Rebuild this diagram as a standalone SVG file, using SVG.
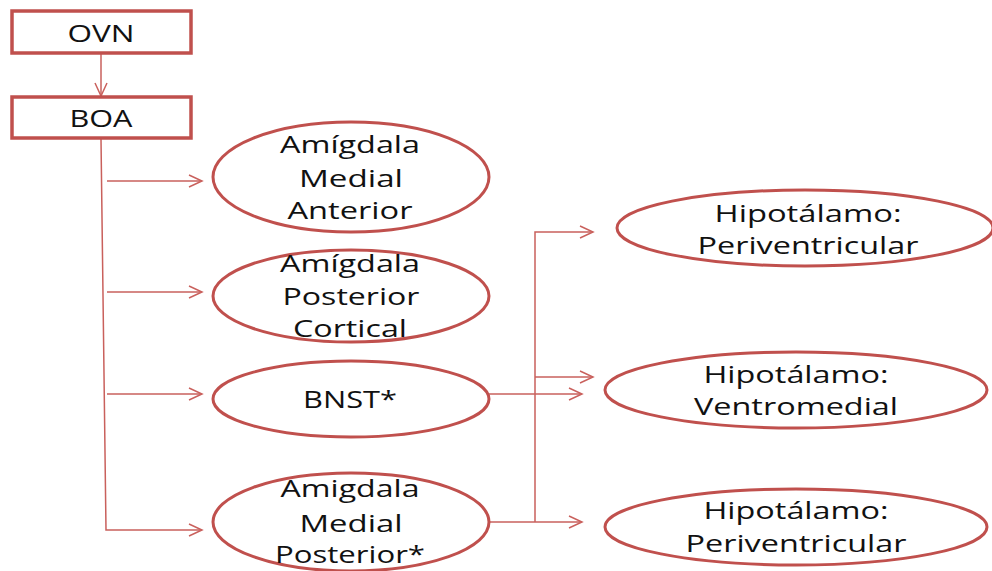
<svg xmlns="http://www.w3.org/2000/svg" width="992" height="571" viewBox="0 0 992 571">
<style>
.box{fill:#fff;stroke:#c0504d;stroke-width:3.5}
.ell{fill:#fff;stroke:#c0504d;stroke-width:3}
.con{fill:none;stroke:#c9605c;stroke-width:1.5}
text{font-family:"Open Sans","Liberation Sans",sans-serif;font-size:24px;fill:#111;text-anchor:middle}
</style>
<defs>
<marker id="arr" markerUnits="userSpaceOnUse" markerWidth="16" markerHeight="16" refX="14" refY="7" orient="auto">
<path d="M1,1 L14,7 L1,13" fill="none" stroke="#c9605c" stroke-width="1.5"/>
</marker>
</defs>
<g id="connectors">
<line class="con" x1="101" y1="53" x2="101" y2="96" marker-end="url(#arr)"/>
<polyline class="con" points="101,139 106,530 202,530" marker-end="url(#arr)"/>
<line class="con" x1="107" y1="181" x2="202" y2="181" marker-end="url(#arr)"/>
<line class="con" x1="107" y1="292" x2="202" y2="292" marker-end="url(#arr)"/>
<line class="con" x1="107" y1="394" x2="202" y2="394" marker-end="url(#arr)"/>
<line class="con" x1="489" y1="394" x2="582" y2="394" marker-end="url(#arr)"/>
<line class="con" x1="489" y1="522" x2="582" y2="522" marker-end="url(#arr)"/>
<polyline class="con" points="535,522 535,232 593,232" marker-end="url(#arr)"/>
<line class="con" x1="535" y1="377" x2="593" y2="377" marker-end="url(#arr)"/>
</g>
<g id="ovn">
<rect class="box" x="12" y="11" width="179" height="42"/>
<text x="101" y="42" textLength="67" lengthAdjust="spacingAndGlyphs">OVN</text>
</g>
<g id="boa">
<rect class="box" x="12" y="97" width="179" height="41"/>
<text x="101" y="127" textLength="63" lengthAdjust="spacingAndGlyphs">BOA</text>
</g>
<g id="ama">
<ellipse class="ell" cx="351" cy="177" rx="138" ry="55"/>
<text x="350" y="153" textLength="140" lengthAdjust="spacingAndGlyphs">Amígdala</text>
<text x="351" y="187" textLength="104" lengthAdjust="spacingAndGlyphs">Medial</text>
<text x="350" y="219" textLength="125" lengthAdjust="spacingAndGlyphs">Anterior</text>
</g>
<g id="apc">
<ellipse class="ell" cx="351" cy="296" rx="138" ry="46"/>
<text x="350" y="272" textLength="140" lengthAdjust="spacingAndGlyphs">Amígdala</text>
<text x="351" y="305" textLength="137" lengthAdjust="spacingAndGlyphs">Posterior</text>
<text x="350" y="337" textLength="114" lengthAdjust="spacingAndGlyphs">Cortical</text>
</g>
<g id="bnst">
<ellipse class="ell" cx="351" cy="399" rx="138" ry="38"/>
<text x="350" y="408" textLength="94" lengthAdjust="spacingAndGlyphs">BNST*</text>
</g>
<g id="amp">
<ellipse class="ell" cx="351" cy="522" rx="138" ry="49"/>
<text x="350" y="497" textLength="139" lengthAdjust="spacingAndGlyphs">Amigdala</text>
<text x="351" y="532" textLength="103" lengthAdjust="spacingAndGlyphs">Medial</text>
<text x="350" y="563" textLength="150" lengthAdjust="spacingAndGlyphs">Posterior*</text>
</g>
<g id="hpv1">
<ellipse class="ell" cx="805" cy="228" rx="188" ry="38"/>
<text x="808" y="222" textLength="187" lengthAdjust="spacingAndGlyphs">Hipotálamo:</text>
<text x="808" y="254" textLength="221" lengthAdjust="spacingAndGlyphs">Periventricular</text>
</g>
<g id="hvm">
<ellipse class="ell" cx="796" cy="390" rx="191" ry="38"/>
<text x="796" y="383" textLength="185" lengthAdjust="spacingAndGlyphs">Hipotálamo:</text>
<text x="796" y="415" textLength="204" lengthAdjust="spacingAndGlyphs">Ventromedial</text>
</g>
<g id="hpv2">
<ellipse class="ell" cx="796" cy="527" rx="191" ry="38"/>
<text x="796" y="519" textLength="185" lengthAdjust="spacingAndGlyphs">Hipotálamo:</text>
<text x="796" y="552" textLength="221" lengthAdjust="spacingAndGlyphs">Periventricular</text>
</g>
</svg>
